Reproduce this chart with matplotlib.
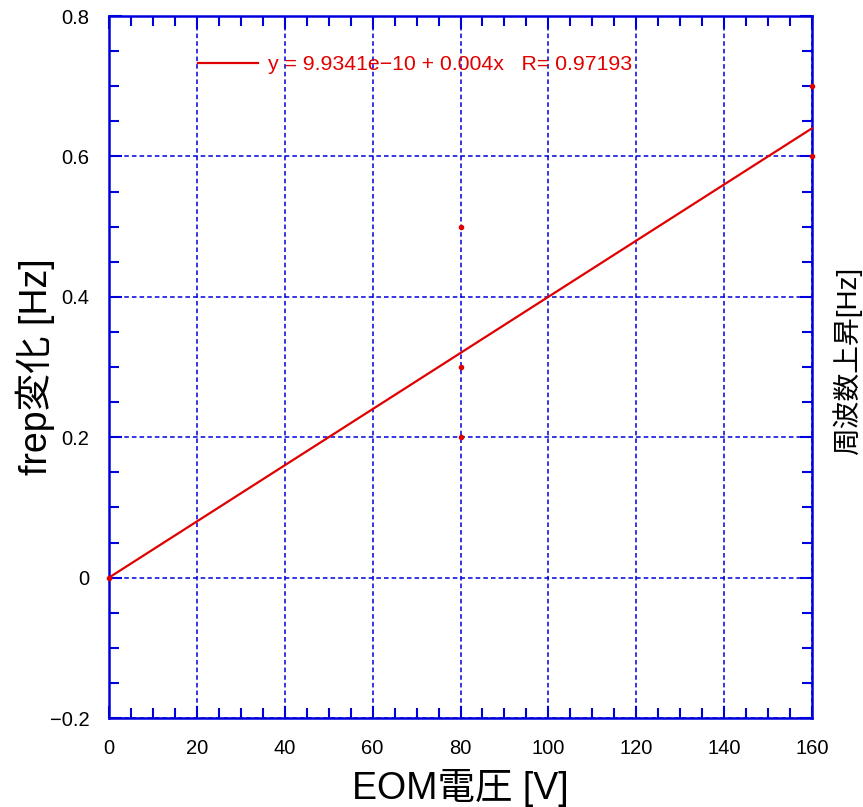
import matplotlib
matplotlib.use('Agg')
import matplotlib.pyplot as plt
import numpy as np

plt.rcParams['font.family'] = ['Liberation Sans', 'Noto Sans CJK JP']
plt.rcParams['axes.unicode_minus'] = True

# data
volts = [0, 80, 80, 80, 160, 160]
dfrep = [0.0, 0.2, 0.3, 0.5, 0.6, 0.7]
fit_a = 9.9341e-10
fit_b = 0.004
fit_r = 0.97193
fit_x = [0, 160]

blue = '#0000dd'
red = '#e00000'

fig = plt.figure(figsize=(8.63, 8.07), dpi=100)
ax = fig.add_axes([109 / 863, 1 - 718 / 807, (812 - 109) / 863, (718 - 16) / 807])

fx = np.array(fit_x)
ax.plot(fx, fit_a + fit_b * fx, color=red, linewidth=1.6, clip_on=False, zorder=3,
        label=f'y = {fit_a:.4e}'.replace('e-', 'e−') + f' + {fit_b}x   R= {fit_r}')
ax.plot(volts, dfrep, 'o', color=red, markersize=3, clip_on=False, zorder=4)

ax.set_xlim(0, 160)
ax.set_ylim(-0.2, 0.8)
ax.set_xticks(np.arange(0, 161, 20))
ax.set_yticks([-0.2, 0, 0.2, 0.4, 0.6, 0.8])
ax.set_yticklabels(['−0.2', '0', '0.2', '0.4', '0.6', '0.8'])
ax.set_xticks(np.arange(0, 161, 5), minor=True)
ax.set_yticks(np.arange(-0.2, 0.81, 0.05), minor=True)

ax.tick_params(which='both', direction='in', top=True, right=True, color=blue,
               width=1.5, labelsize=14.5)
ax.tick_params(axis='x', which='major', pad=15)
ax.tick_params(axis='y', which='major', pad=14)
ax.tick_params(which='major', length=9)
ax.tick_params(which='minor', length=7)

for s in ax.spines.values():
    s.set_color(blue)
    s.set_linewidth(1.8)

ax.grid(True, which='major', color=blue, linestyle=(0, (3, 2)), linewidth=1.1)

ax.set_xlabel('EOM電圧 [V]', fontsize=27)
ax.xaxis.set_label_coords(0.5, -0.072)
ax.set_ylabel('frep変化 [Hz]', fontsize=27)
ax.yaxis.set_label_coords(-0.077, 0.5)
fig.text(847 / 863, 1 - 361 / 807, '周波数上昇[Hz]', rotation=90, fontsize=20,
         ha='center', va='center')

leg = ax.legend(loc='center left', bbox_to_anchor=(0.114, 0.931), frameon=False,
                handlelength=2.85, handletextpad=0.45, fontsize=15.3, borderaxespad=0)
for t in leg.get_texts():
    t.set_color(red)

fig.savefig('out.png', dpi=100, facecolor='white')
